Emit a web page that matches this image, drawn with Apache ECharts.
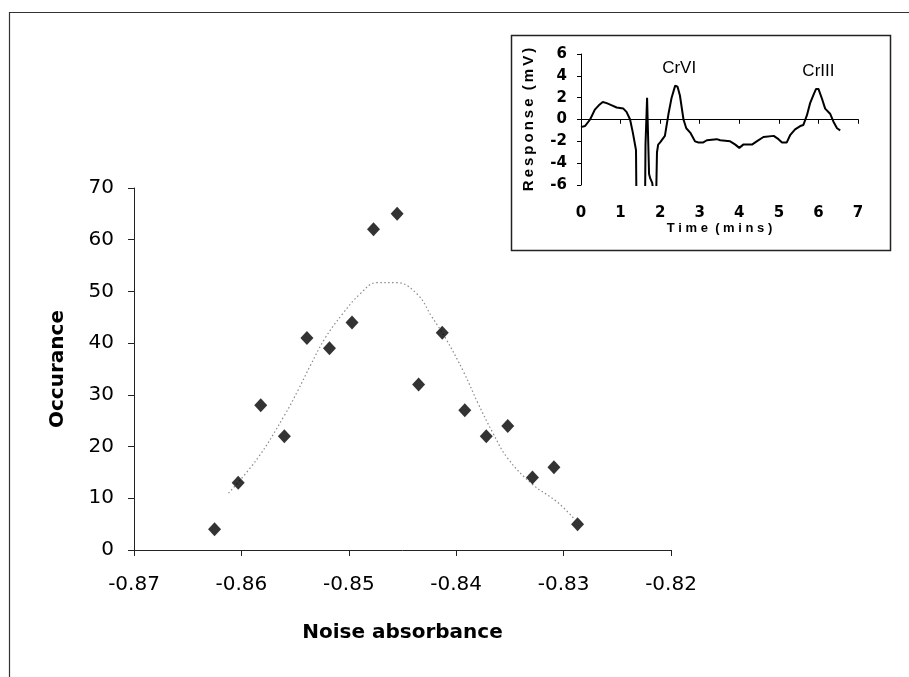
<!DOCTYPE html>
<html><head><meta charset="utf-8">
<script src="https://cdn.jsdelivr.net/npm/echarts@6/dist/echarts.min.js"></script>
<style>html,body{margin:0;padding:0;background:#fff}#c{width:909px;height:677px}</style>
</head><body><div id="c"></div>
<script>
// Main scatter: noise absorbance vs occurrence
const noiseX = [-0.8625, -0.8603, -0.8582, -0.8560, -0.8539, -0.8518, -0.8497, -0.8477, -0.8455,
                -0.8435, -0.8413, -0.8392, -0.8372, -0.8352, -0.8329, -0.8309, -0.8287];
const occurrence = [4, 13, 28, 22, 41, 39, 44, 62, 65, 32, 42, 27, 22, 24, 14, 16, 5];
// Dotted trend curve
const trendX = [-0.8612, -0.8585, -0.8560, -0.8547, -0.8536, -0.8522, -0.8506, -0.8490, -0.8474, -0.8455,
                -0.8436, -0.8423, -0.8410, -0.8393, -0.8380, -0.8366, -0.8352, -0.8329, -0.8306, -0.8290];
const trendY = [11, 17.7, 26, 31, 35.6, 41, 45.6, 49.4, 51.7, 51.7,
                49.4, 45.2, 41, 34.4, 28.5, 22.7, 17.7, 12.7, 9.3, 6];
// Inset chromatogram
const timeMins = [0, 0.1, 0.23, 0.35, 0.45, 0.55, 0.65, 0.78, 0.9, 1.07, 1.15, 1.24, 1.31, 1.37, 1.39, 1.40,
  1.62, 1.63, 1.66, 1.67, 1.70, 1.72, 1.75, 1.80, 1.84, 1.90, 1.92, 1.95, 2.0, 2.05, 2.12, 2.21, 2.29, 2.38,
  2.44, 2.5, 2.59, 2.66, 2.76, 2.88, 2.97, 3.09, 3.18, 3.43, 3.52, 3.77, 3.9, 4.0, 4.1, 4.32, 4.44, 4.61,
  4.87, 4.99, 5.08, 5.2, 5.29, 5.41, 5.54, 5.62, 5.71, 5.79, 5.88, 5.94, 6.0, 6.09, 6.17, 6.3, 6.38, 6.47, 6.55];
const responseMv = [-0.7, -0.6, 0.0, 0.9, 1.3, 1.6, 1.5, 1.3, 1.1, 1.0, 0.7, 0.0, -1.2, -2.4, -2.8, -7,
  -7, -2.3, -2.3, 2.0, 2.0, -5.0, -5.4, -5.8, -7, -7, -3.0, -2.3, -2.1, -2.0, -1.5, 0.5, 2.0, 3.1,
  3.0, 2.2, 0.0, -0.8, -1.2, -2.0, -2.1, -2.1, -1.9, -1.8, -1.9, -2.0, -2.3, -2.6, -2.3, -2.3, -2.0, -1.6,
  -1.5, -1.8, -2.1, -2.1, -1.4, -0.9, -0.6, -0.5, 0.4, 1.5, 2.3, 2.8, 2.8, 1.9, 1.0, 0.5, -0.2, -0.8, -1.0];
const peakNames = ['CrVI', 'CrIII'];
const peakTime = [2.48, 6.0];
const peakResp = [4.7, 4.4];

const FONT = '"Liberation Sans", Arial, sans-serif';
const WIDE = '"DejaVu Sans", "Liberation Sans", Arial, sans-serif';
const chart = echarts.init(document.getElementById('c'), null, {renderer: 'canvas'});

const pair = (a, b) => a.map((v, i) => [v, b[i]]);

const option = {
  backgroundColor: '#fff',
  animation: false,
  textStyle: {fontFamily: FONT, color: '#000'},
  graphic: [
    {type: 'rect', shape: {x: 9.5, y: 12.5, width: 920, height: 700}, style: {fill: 'none', stroke: '#333', lineWidth: 1.2}, silent: true, z: -1},
    {type: 'rect', shape: {x: 511.5, y: 35.5, width: 379, height: 215}, style: {fill: '#fff', stroke: '#222', lineWidth: 1.5}, silent: true, z: 0}
  ],
  grid: [
    {left: 134, top: 188, width: 537, height: 362},
    {left: 581, top: 54, width: 277, height: 131, z: 5}
  ],
  xAxis: [
    {gridIndex: 0, type: 'value', min: -0.87, max: -0.82, interval: 0.01,
     name: 'Noise absorbance', nameLocation: 'middle', nameGap: 73,
     nameTextStyle: {fontSize: 20, fontWeight: 'bold', fontFamily: WIDE, color: '#000'},
     axisLine: {lineStyle: {color: '#222', width: 1}},
     axisTick: {length: 6, lineStyle: {color: '#222'}},
     axisLabel: {fontSize: 20, margin: 25, color: '#000', fontFamily: WIDE, formatter: v => v.toFixed(2)},
     splitLine: {show: false}},
    {gridIndex: 1, type: 'value', min: 0, max: 7, interval: 1,
     name: 'T i m e  ( m i n s )', nameLocation: 'middle', nameGap: 37,
     nameTextStyle: {fontSize: 13, fontWeight: 'bold', fontFamily: FONT, color: '#000'},
     axisLine: {lineStyle: {color: '#000', width: 1}},
     axisTick: {length: 4, lineStyle: {color: '#000'}},
     axisLabel: {fontSize: 15, fontWeight: 'bold', margin: 21, color: '#000', fontFamily: WIDE},
     splitLine: {show: false}},
    {gridIndex: 1, type: 'value', min: 0, max: 7, interval: 1,
     axisLine: {show: false}, axisTick: {inside: true, length: 4, lineStyle: {color: '#000'}},
     axisLabel: {show: false}, splitLine: {show: false}}
  ],
  yAxis: [
    {gridIndex: 0, type: 'value', min: 0, max: 70, interval: 10,
     name: 'Occurance', nameLocation: 'middle', nameGap: 66,
     nameTextStyle: {fontSize: 20, fontWeight: 'bold', fontFamily: WIDE, color: '#000'},
     axisLine: {show: true, lineStyle: {color: '#222', width: 1}},
     axisTick: {show: true, length: 6, lineStyle: {color: '#222'}},
     axisLabel: {fontSize: 20, margin: 20, color: '#000', fontFamily: WIDE},
     splitLine: {show: false}},
    {gridIndex: 1, type: 'value', min: -6, max: 6, interval: 2,
     name: 'R\u2009e\u2009s\u2009p\u2009o\u2009n\u2009s\u2009e  (\u2009m\u2009V\u2009)', nameLocation: 'middle', nameGap: 45,
     nameTextStyle: {fontSize: 15, fontWeight: 'bold', fontFamily: FONT, color: '#000'},
     axisLine: {show: true, lineStyle: {color: '#000', width: 1}},
     axisTick: {show: true, length: 4, lineStyle: {color: '#000'}},
     axisLabel: {fontSize: 15, fontWeight: 'bold', margin: 14, color: '#000', fontFamily: WIDE},
     splitLine: {show: false}},
    {gridIndex: 1, type: 'value', min: -6, max: 6, interval: 2,
     axisLine: {show: false}, axisTick: {show: true, inside: true, length: 4, lineStyle: {color: '#000'}},
     axisLabel: {show: false}, splitLine: {show: false}}
  ],
  series: [
    {type: 'line', xAxisIndex: 0, yAxisIndex: 0, data: pair(trendX, trendY), smooth: 0.4,
     symbol: 'none', lineStyle: {color: '#8a8a8a', width: 1.2, type: [1.5, 2.5]}, z: 2},
    {type: 'scatter', xAxisIndex: 0, yAxisIndex: 0, data: pair(noiseX, occurrence),
     symbol: 'diamond', symbolSize: [13, 14], itemStyle: {color: '#000'}, z: 3},
    {type: 'line', xAxisIndex: 1, yAxisIndex: 1, data: pair(timeMins, responseMv), clip: true,
     symbol: 'none', lineStyle: {color: '#000', width: 2}, z: 6,
     markPoint: {symbol: 'circle', symbolSize: 0,
       label: {show: true, position: 'inside', formatter: p => p.name, fontSize: 17,
               fontFamily: '"Liberation Sans Narrow", "Liberation Sans", Arial, sans-serif', color: '#000'},
       data: peakNames.map((n, i) => ({name: n, coord: [peakTime[i], peakResp[i]]}))}}
  ]
};
chart.setOption(option);
</script>
</body></html>
